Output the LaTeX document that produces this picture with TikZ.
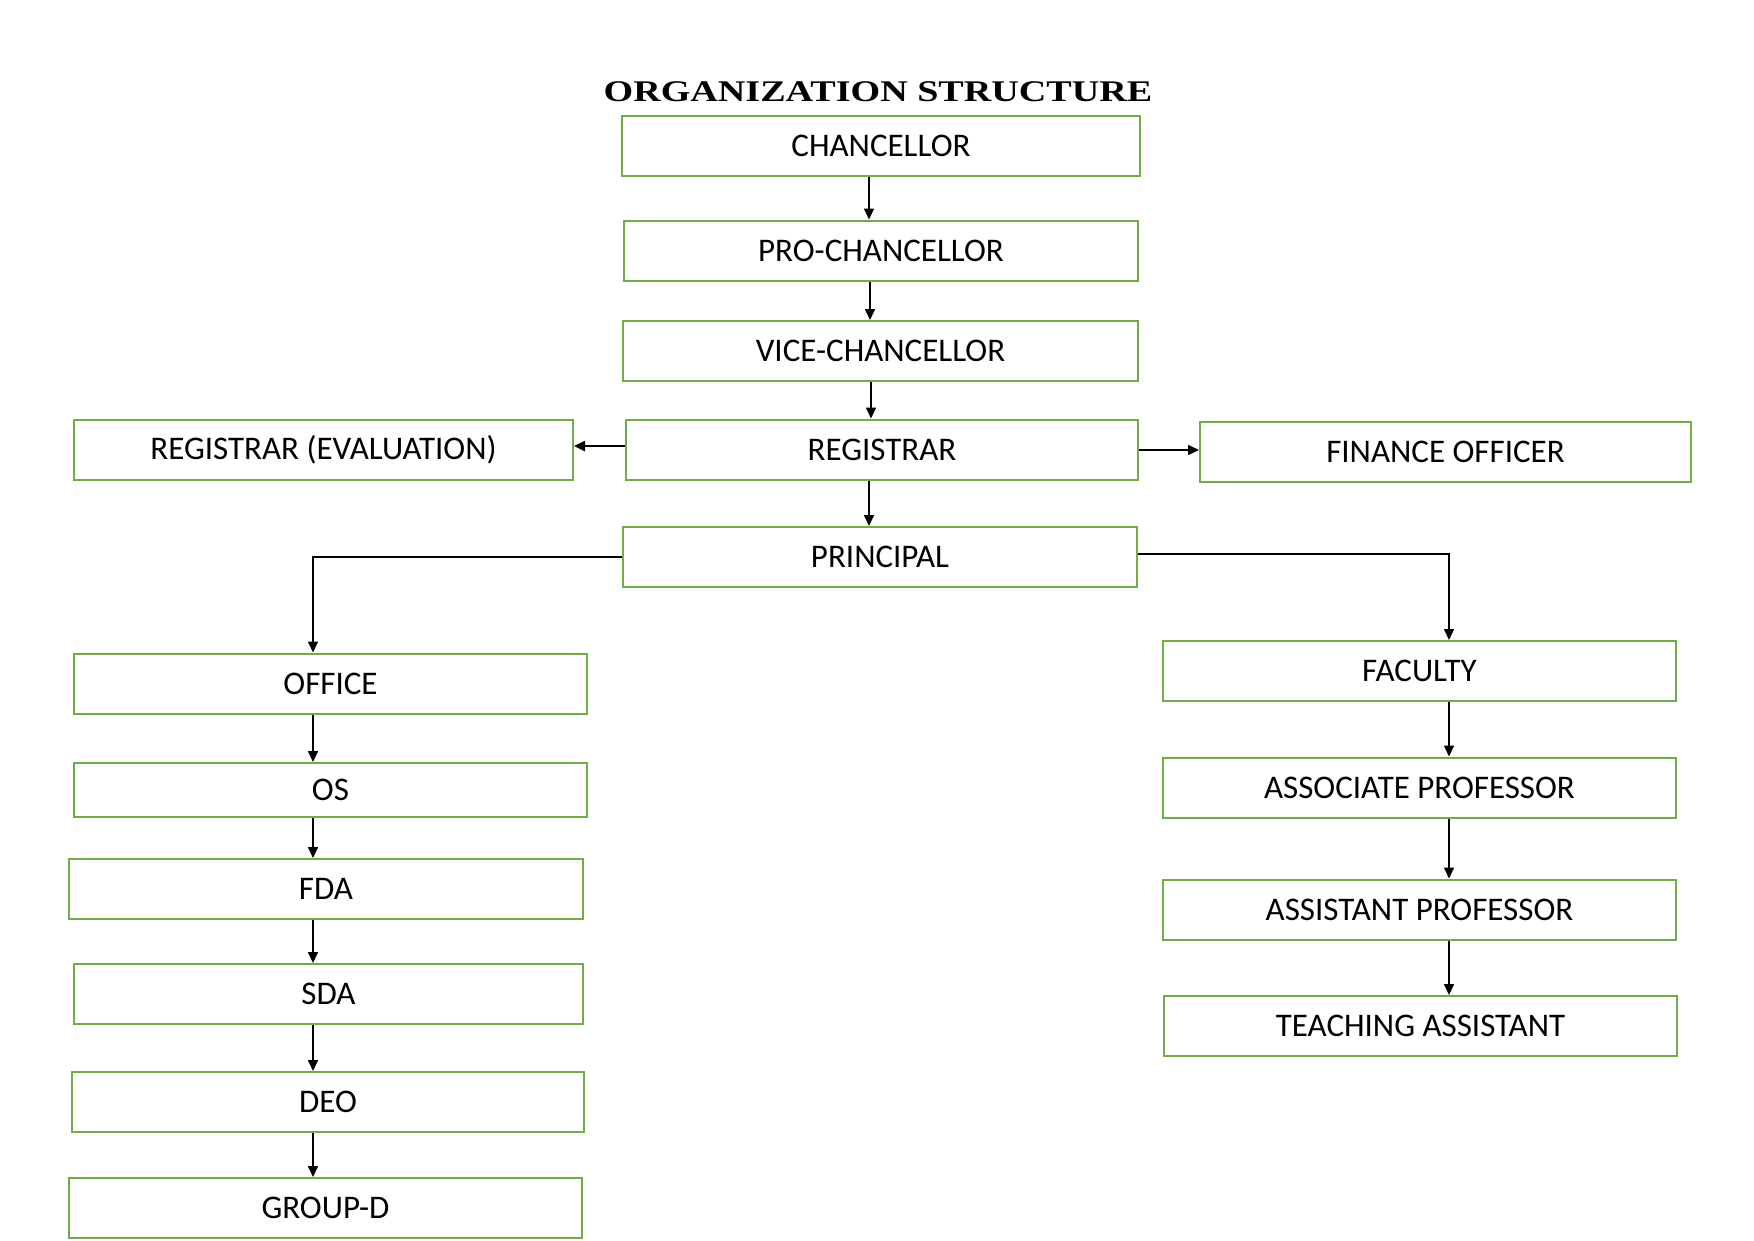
\documentclass[tikz,border=0pt]{standalone}
\usepackage{fontspec}
\setmainfont{Carlito}
\newfontfamily\titlefont{Liberation Serif}
\usetikzlibrary{arrows.meta}
\definecolor{boxgreen}{HTML}{70AD47}
\begin{document}
\begin{tikzpicture}[x=1pt,y=-1pt,
  box/.style={draw=boxgreen,line width=2pt,fill=white,minimum height=60pt,inner sep=0pt,font=\fontsize{33}{38}\selectfont},
  arr/.style={draw=black,line width=1.6pt,-{Triangle[length=11pt,width=10pt]}},
]
\useasboundingbox (0,0) rectangle (1754,1240);
\fill[white] (0,0) rectangle (1754,1240);
\node (title) at (878,92) {\scalebox{1.27}[1]{\titlefont\bfseries\fontsize{30}{34}\selectfont ORGANIZATION STRUCTURE}};
% top chain
\node[box,minimum width=518pt] (chan) at (881,145.5) {CHANCELLOR};
\node[box,minimum width=514pt] (pro) at (881,250.5) {PRO-CHANCELLOR};
\node[box,minimum width=515pt] (vice) at (880.5,351) {VICE-CHANCELLOR};
\node[box,minimum width=512pt] (reg) at (882,449.5) {REGISTRAR};
\node[box,minimum width=499pt] (rege) at (323.5,450) {REGISTRAR (EVALUATION)};
\node[box,minimum width=491pt] (fin) at (1445.5,452) {FINANCE OFFICER};
\node[box,minimum width=514pt] (prin) at (880,557) {PRINCIPAL};
% left column
\node[box,minimum width=513pt] (office) at (330.5,683.5) {OFFICE};
\node[box,minimum width=513pt,minimum height=54pt] (os) at (330.5,790) {OS};
\node[box,minimum width=514pt] (fda) at (326,889) {FDA};
\node[box,minimum width=509pt] (sda) at (328.5,994) {SDA};
\node[box,minimum width=512pt] (deo) at (328,1102) {DEO};
\node[box,minimum width=513pt] (grp) at (325.5,1208) {GROUP-D};
% right column
\node[box,minimum width=513pt] (fac) at (1419.5,671) {FACULTY};
\node[box,minimum width=513pt] (assoc) at (1419.5,787.5) {ASSOCIATE PROFESSOR};
\node[box,minimum width=513pt] (assist) at (1419.5,909.5) {ASSISTANT PROFESSOR};
\node[box,minimum width=513pt] (teach) at (1420.5,1026) {TEACHING ASSISTANT};
% arrow columns
\coordinate (c1) at (869,0);
\coordinate (c2) at (870,0);
\coordinate (c3) at (871,0);
\coordinate (lc) at (313,0);
\coordinate (rc) at (1449,0);
\coordinate (lrow) at (0,557);
\coordinate (rrow) at (0,554);
\coordinate (erow) at (0,446);
\coordinate (frow) at (0,450);
% connectors
\draw[arr] (chan.south -| c1) -- (pro.north -| c1);
\draw[arr] (pro.south -| c2) -- (vice.north -| c2);
\draw[arr] (vice.south -| c3) -- (reg.north -| c3);
\draw[arr] (reg.south -| c1) -- (prin.north -| c1);
\draw[arr,line width=2.4pt] (reg.west |- erow) -- (rege.east |- erow);
\draw[arr] (reg.east |- frow) -- (fin.west |- frow);
\draw[arr] (prin.west |- lrow) -| (office.north -| lc);
\draw[arr] (prin.east |- rrow) -| (fac.north -| rc);
\draw[arr] (office.south -| lc) -- (os.north -| lc);
\draw[arr] (os.south -| lc) -- (fda.north -| lc);
\draw[arr] (fda.south -| lc) -- (sda.north -| lc);
\draw[arr] (sda.south -| lc) -- (deo.north -| lc);
\draw[arr] (deo.south -| lc) -- (grp.north -| lc);
\draw[arr] (fac.south -| rc) -- (assoc.north -| rc);
\draw[arr] (assoc.south -| rc) -- (assist.north -| rc);
\draw[arr] (assist.south -| rc) -- (teach.north -| rc);
\end{tikzpicture}
\end{document}
